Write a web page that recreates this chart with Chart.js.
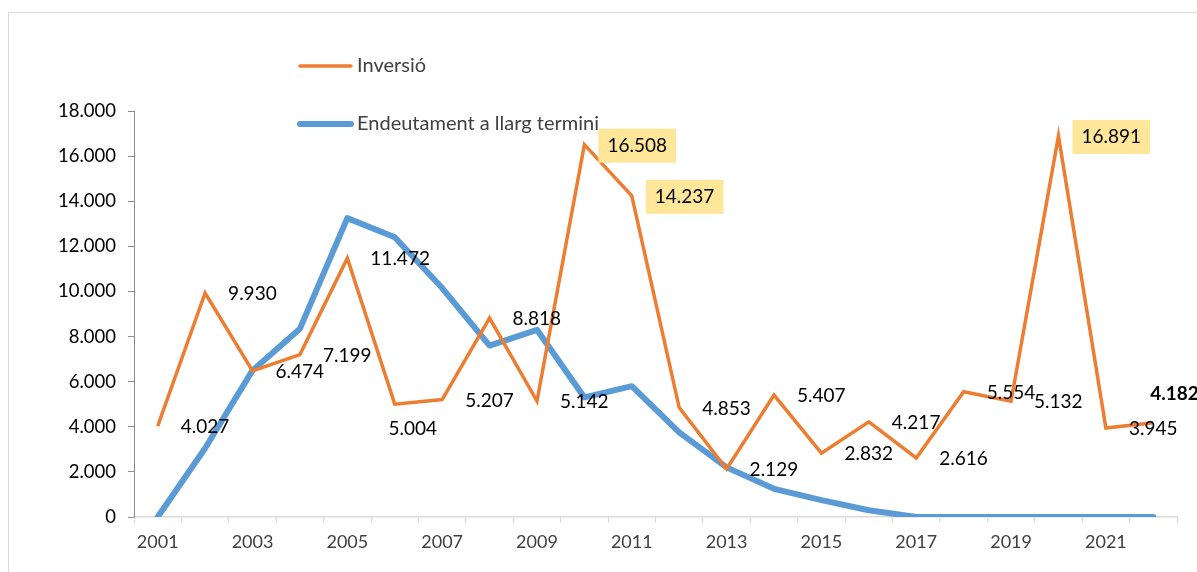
<!DOCTYPE html>
<html>
<head>
<meta charset="utf-8">
<script src="https://cdn.jsdelivr.net/npm/chart.js@4.4.1/dist/chart.umd.min.js"></script>
<style>
  html, body { margin: 0; padding: 0; background: #fff; }
  #wrap { position: relative; width: 1197px; height: 572px; }
</style>
</head>
<body>
<div id="wrap"><canvas id="chart" width="1197" height="572"></canvas></div>
<script>
const years = ['2001', '2002', '2003', '2004', '2005', '2006', '2007', '2008', '2009', '2010', '2011',
  '2012', '2013', '2014', '2015', '2016', '2017', '2018', '2019', '2020', '2021', '2022'];
const inversio = [4027, 9930, 6474, 7199, 11472, 5004, 5207, 8818, 5142, 16508, 14237,
  4853, 2129, 5407, 2832, 4217, 2616, 5554, 5132, 16891, 3945, 4182];
const endeutament = [0, 3050, 6500, 8350, 13250, 12400, 10150, 7600, 8300, 5300, 5800,
  3750, 2200, 1250, 750, 300, 0, 0, 0, 0, 0, 0];
const yTicks = [0, 2000, 4000, 6000, 8000, 10000, 12000, 14000, 16000, 18000];
const highlightYears = ['2010', '2011', '2020'];
const boldYears = ['2022'];
// where each data label sits around its point
const labelPos = years.map(y => y === '2006' ? 'below' : (y === '2022' ? 'aboveRight' : 'right'));

const FONT = 'Lato, "Open Sans", sans-serif';
const fmt = v => String(v).replace(/\B(?=(\d{3})+(?!\d))/g, '.');

Chart.defaults.font.family = FONT;

const frame = {
  id: 'frame',
  beforeDraw(chart) {
    const c = chart.ctx;
    c.save();
    c.fillStyle = '#fff';
    c.fillRect(0, 0, chart.width, chart.height);
    c.strokeStyle = '#d9d9d9';
    c.lineWidth = 1;
    c.beginPath();
    c.moveTo(8.5, chart.height);
    c.lineTo(8.5, 12.5);
    c.lineTo(chart.width, 12.5);
    c.stroke();
    c.restore();
  }
};

const valueLabels = {
  id: 'valueLabels',
  afterDatasetsDraw(chart) {
    const c = chart.ctx;
    const meta = chart.getDatasetMeta(0);
    c.save();
    c.textBaseline = 'middle';
    meta.data.forEach((pt, i) => {
      const txt = fmt(inversio[i]);
      const bold = boldYears.includes(years[i]);
      c.font = (bold ? 'bold ' : '') + '19px ' + FONT;
      const w = c.measureText(txt).width;
      let x, y;
      if (labelPos[i] === 'below') {
        x = pt.x + 18 - w / 2; y = pt.y + 25;
      } else if (labelPos[i] === 'aboveRight') {
        x = pt.x - 3; y = pt.y - 29;
      } else {
        x = pt.x + 23; y = pt.y + 1;
      }
      if (highlightYears.includes(years[i])) {
        c.fillStyle = '#ffe699';
        c.fillRect(x - 9, y - 17, w + 18, 34);
      }
      c.fillStyle = '#000';
      c.textAlign = 'left';
      c.fillText(txt, x, y);
    });
    c.restore();
  }
};

const legendBox = {
  id: 'legendBox',
  afterDraw(chart) {
    const c = chart.ctx;
    const items = [
      { text: 'Inversió', color: '#ed7d31', width: 3.5, y: 66 },
      { text: 'Endeutament a llarg termini', color: '#5b9bd5', width: 6, y: 124 }
    ];
    c.save();
    items.forEach(it => {
      c.strokeStyle = it.color;
      c.lineWidth = it.width;
      c.lineCap = 'round';
      c.beginPath();
      c.moveTo(300, it.y);
      c.lineTo(351, it.y);
      c.stroke();
      c.fillStyle = '#404040';
      c.font = '20px ' + FONT;
      c.textBaseline = 'middle';
      c.textAlign = 'left';
      c.fillText(it.text, 357, it.y);
    });
    c.restore();
  }
};

new Chart(document.getElementById('chart'), {
  type: 'line',
  data: {
    labels: years,
    datasets: [
      {
        label: 'Inversió',
        data: inversio,
        borderColor: '#ed7d31',
        borderWidth: 3.5,
        pointRadius: 0,
        tension: 0
      },
      {
        label: 'Endeutament a llarg termini',
        data: endeutament,
        borderColor: '#5b9bd5',
        borderWidth: 6,
        borderCapStyle: 'round',
        borderJoinStyle: 'round',
        pointRadius: 0,
        tension: 0
      }
    ]
  },
  options: {
    responsive: false,
    devicePixelRatio: 1,
    animation: false,
    layout: { padding: { top: 111, right: 20, left: 0, bottom: 0 } },
    plugins: {
      legend: { display: false },
      tooltip: { enabled: false }
    },
    scales: {
      x: {
        offset: true,
        afterFit: s => { s.height = 55; },
        grid: { drawOnChartArea: false, offset: true, color: '#d9d9d9', tickLength: 6 },
        border: { color: '#d9d9d9', width: 1.5 },
        ticks: {
          autoSkip: false,
          maxRotation: 0,
          padding: 8,
          color: '#404040',
          font: { size: 18 },
          callback: function (v, i) { return i % 2 === 0 ? this.getLabelForValue(v) : ''; }
        }
      },
      y: {
        min: 0,
        max: 18000,
        afterFit: s => { s.width = 134; },
        afterBuildTicks: s => { s.ticks = yTicks.map(v => ({ value: v })); },
        grid: { drawOnChartArea: false, color: '#8c8c8c', tickLength: 6 },
        border: { color: '#8c8c8c', width: 1 },
        ticks: {
          padding: 12,
          color: '#000',
          font: { size: 18.5 },
          callback: v => fmt(v)
        }
      }
    }
  },
  plugins: [frame, valueLabels, legendBox]
});
</script>
</body>
</html>
